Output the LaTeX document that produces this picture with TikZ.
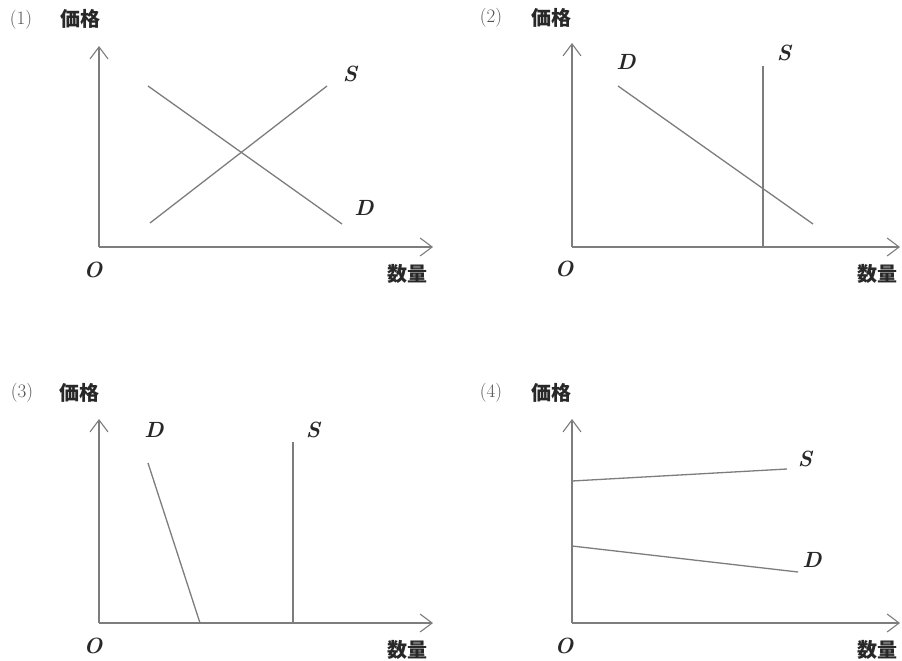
\documentclass[tikz,border=0pt]{standalone}
\usepackage{fontspec}
\newfontfamily\cjk{Noto Sans CJK JP}
\usetikzlibrary{arrows.meta}
\definecolor{ln}{RGB}{125,125,125}
\definecolor{tx}{RGB}{40,40,40}
\tikzset{
  axis/.style={draw=ln, line width=1.3pt, -{Straight Barb[length=12pt,width=18pt,line width=1.1pt]}},
  curve/.style={draw=ln, line width=1.3pt},
  jp/.style={inner sep=0pt, text=tx, font=\cjk\bfseries\fontsize{20}{22}\selectfont},
  num/.style={inner sep=0pt, text=tx!80, font=\fontsize{19}{21}\selectfont},
  var/.style={inner sep=0pt, text=tx, font=\bfseries\itshape\fontsize{22}{24}\selectfont}
}
\begin{document}
\begin{tikzpicture}[x=1pt,y=-1pt]
\useasboundingbox[fill=white] (0,0) rectangle (902,661);
% ---------- Panel 1 ----------
\coordinate (o1) at (99,247);
\coordinate (y1) at (99,46);
\coordinate (x1) at (433,247);
\draw[axis] (o1) -- (y1);
\draw[axis] (o1) -- (x1);
\node[num] (n1) at (21,20) {(1)};
\node[jp] (p1) at (80,19) {価格};
\node[var] (O1) at (93,270) {O};
\node[jp] (q1) at (407,274) {数量};
\coordinate (s1a) at (150,223); \coordinate (s1b) at (327,86);
\coordinate (d1a) at (148,86); \coordinate (d1b) at (342,224);
\draw[curve] (s1a) -- (s1b);
\draw[curve] (d1a) -- (d1b);
\node[var] (S1) at (350,74) {S};
\node[var] (D1) at (364,208) {D};
% ---------- Panel 2 ----------
\coordinate (o2) at (572,247);
\coordinate (y2) at (572,43);
\coordinate (x2) at (900,247);
\draw[axis] (o2) -- (y2);
\draw[axis] (o2) -- (x2);
\node[num] (n2) at (491,18) {(2)};
\node[jp] (p2) at (551,18) {価格};
\node[var] (O2) at (564,269) {O};
\node[jp] (q2) at (877,274) {数量};
\coordinate (d2a) at (618,86); \coordinate (d2b) at (813,224);
\coordinate (s2a) at (763,66); \coordinate (s2b) at (763,247);
\draw[curve] (d2a) -- (d2b);
\draw[curve] (s2a) -- (s2b);
\node[var] (D2) at (626,62) {D};
\node[var] (S2) at (784,53) {S};
% ---------- Panel 3 ----------
\coordinate (o3) at (99,623);
\coordinate (y3) at (99,419);
\coordinate (x3) at (433,623);
\draw[axis] (o3) -- (y3);
\draw[axis] (o3) -- (x3);
\node[num] (n3) at (22,393) {(3)};
\node[jp] (p3) at (79,393) {価格};
\node[var] (O3) at (93,646) {O};
\node[jp] (q3) at (407,650) {数量};
\coordinate (d3a) at (148,463); \coordinate (d3b) at (200,623);
\coordinate (s3a) at (293,442); \coordinate (s3b) at (293,623);
\draw[curve] (d3a) -- (d3b);
\draw[curve] (s3a) -- (s3b);
\node[var] (D3) at (154,430) {D};
\node[var] (S3) at (313,430) {S};
% ---------- Panel 4 ----------
\coordinate (o4) at (572,623);
\coordinate (y4) at (572,419);
\coordinate (x4) at (900,623);
\draw[axis] (o4) -- (y4);
\draw[axis] (o4) -- (x4);
\node[num] (n4) at (491,393) {(4)};
\node[jp] (p4) at (551,393) {価格};
\node[var] (O4) at (564,646) {O};
\node[jp] (q4) at (877,650) {数量};
\coordinate (s4a) at (572,481); \coordinate (s4b) at (787,469);
\coordinate (d4a) at (572,546); \coordinate (d4b) at (798,572);
\draw[curve] (s4a) -- (s4b);
\draw[curve] (d4a) -- (d4b);
\node[var] (S4) at (805,459) {S};
\node[var] (D4) at (812,560) {D};
\end{tikzpicture}
\end{document}
